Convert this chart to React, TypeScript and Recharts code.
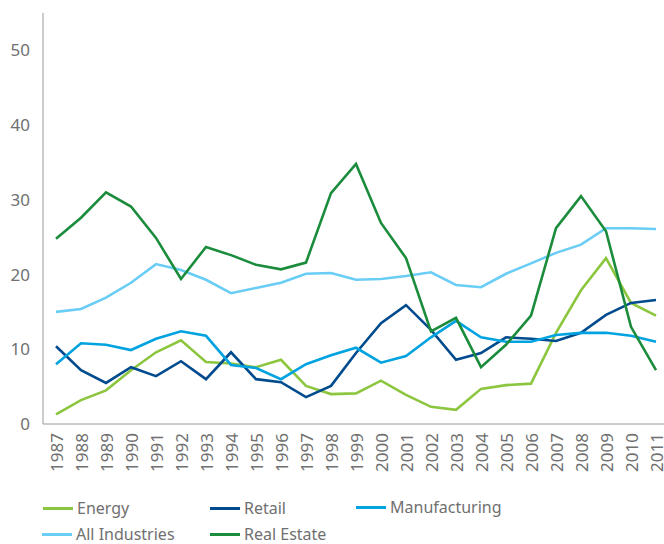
import { LineChart, Line, XAxis, YAxis, Legend } from "recharts"

const years = [
  "1987", "1988", "1989", "1990", "1991", "1992", "1993", "1994", "1995",
  "1996", "1997", "1998", "1999", "2000", "2001", "2002", "2003", "2004",
  "2005", "2006", "2007", "2008", "2009", "2010", "2011",
]

const energy = [
  1.3, 3.2, 4.5, 7.2, 9.6, 11.2, 8.3, 8.1, 7.6, 8.6, 5.1, 4.0, 4.1, 5.8, 3.9,
  2.3, 1.9, 4.7, 5.2, 5.4, 12.2, 17.9, 22.2, 16.2, 14.5,
]
const retail = [
  10.4, 7.2, 5.5, 7.6, 6.4, 8.4, 6.0, 9.6, 6.0, 5.6, 3.6, 5.1, 9.5, 13.5, 15.9,
  12.6, 8.6, 9.5, 11.6, 11.4, 11.1, 12.2, 14.6, 16.2, 16.6,
]
const manufacturing = [
  8.0, 10.8, 10.6, 9.9, 11.4, 12.4, 11.8, 7.9, 7.5, 6.0, 8.0, 9.2, 10.2, 8.2,
  9.1, 11.6, 13.8, 11.6, 11.0, 11.0, 11.9, 12.2, 12.2, 11.8, 11.0,
]
const allIndustries = [
  15.0, 15.4, 16.9, 18.9, 21.4, 20.6, 19.3, 17.5, 18.2, 18.9, 20.1, 20.2, 19.3,
  19.4, 19.8, 20.3, 18.6, 18.3, 20.1, 21.5, 22.9, 24.0, 26.2, 26.2, 26.1,
]
const realEstate = [
  24.8, 27.6, 31.0, 29.1, 24.9, 19.4, 23.7, 22.6, 21.3, 20.7, 21.6, 30.9, 34.8,
  26.9, 22.2, 12.4, 14.2, 7.6, 10.6, 14.5, 26.2, 30.5, 25.8, 13.0, 7.2,
]

const yTicks = [0, 10, 20, 30, 40, 50]

const series = [
  { key: "energy", name: "Energy", color: "#8cc63f" },
  { key: "retail", name: "Retail", color: "#004b8d" },
  { key: "manufacturing", name: "Manufacturing", color: "#00a3e0" },
  { key: "allIndustries", name: "All Industries", color: "#6acdf5" },
  { key: "realEstate", name: "Real Estate", color: "#1a8c3c" },
]

const data = years.map((year, i) => ({
  year,
  energy: energy[i],
  retail: retail[i],
  manufacturing: manufacturing[i],
  allIndustries: allIndustries[i],
  realEstate: realEstate[i],
}))

const textColor = "#707070"
const font = "'Noto Sans', 'Open Sans', sans-serif"

// legend slots, two rows like the original
const legendPos: Record<string, { left: number; top: number }> = {
  energy: { left: 43, top: 34 },
  retail: { left: 210, top: 34 },
  manufacturing: { left: 356, top: 33 },
  allIndustries: { left: 42, top: 60 },
  realEstate: { left: 210, top: 60 },
}

function YearTick(props: any) {
  const { x, y, payload } = props
  return (
    <text
      x={0}
      y={0}
      transform={`translate(${x},${y + 1}) rotate(-90)`}
      textAnchor="end"
      dominantBaseline="central"
      fill={textColor}
      fontSize={17}
      fontFamily={font}
    >
      {payload.value}
    </text>
  )
}

function ChartLegend() {
  return (
    <div style={{ position: "relative", width: 664, height: 70 }}>
      {series.map((s) => {
        const p = legendPos[s.key]
        return (
          <div
            key={s.key}
            style={{
              position: "absolute",
              left: p.left,
              top: p.top - 9,
              height: 18,
              display: "flex",
              alignItems: "center",
              whiteSpace: "nowrap",
            }}
          >
            <span
              style={{
                display: "inline-block",
                width: 30,
                height: 3,
                background: s.color,
                marginRight: 4,
              }}
            />
            <span style={{ color: textColor, fontSize: 16, lineHeight: "18px", fontFamily: font }}>
              {s.name}
            </span>
          </div>
        )
      })}
    </div>
  )
}

export default function App() {
  return (
    <div style={{ position: "absolute", left: 0, top: 0, width: 664, height: 544, background: "#fff" }}>
      <LineChart
        width={664}
        height={544}
        data={data}
        margin={{ top: 13, right: 0, bottom: 0, left: 0 }}
      >
        <XAxis
          dataKey="year"
          interval={0}
          padding={{ left: 13, right: 8 }}
          height={50}
          stroke="#9a9a9a"
          tickLine={false}
          tick={<YearTick />}
        />
        <YAxis
          domain={[0, 55]}
          ticks={yTicks}
          width={43}
          stroke="#9a9a9a"
          tickLine={false}
          tickMargin={7}
          tick={{ fill: textColor, fontSize: 17, fontFamily: font }}
        />
        <Legend verticalAlign="bottom" content={() => <ChartLegend />} />
        {series.map((s) => (
          <Line
            key={s.key}
            dataKey={s.key}
            name={s.name}
            stroke={s.color}
            strokeWidth={2.6}
            dot={false}
            type="linear"
            isAnimationActive={false}
          />
        ))}
      </LineChart>
    </div>
  )
}
